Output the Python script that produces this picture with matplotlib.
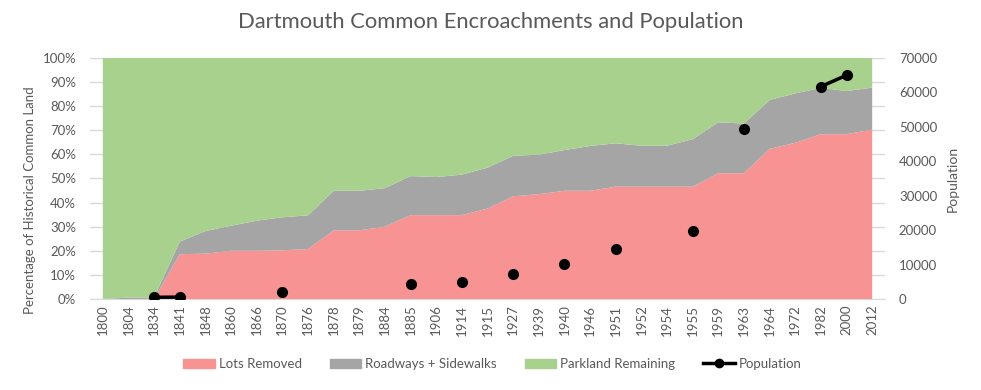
import numpy as np
import matplotlib
matplotlib.use("Agg")
import matplotlib.pyplot as plt
from matplotlib.ticker import PercentFormatter
from matplotlib.lines import Line2D
from matplotlib.patches import Patch

plt.rcParams['font.family'] = ['Lato', 'DejaVu Sans']

years = ['1800', '1804', '1834', '1841', '1848', '1860', '1866', '1870', '1876',
         '1878', '1879', '1884', '1885', '1906', '1914', '1915', '1927', '1939',
         '1940', '1946', '1951', '1952', '1954', '1955', '1959', '1963', '1964',
         '1972', '1982', '2000', '2012']

# percent of historical common land
lots_removed = [0, 0, 0, 18.6, 18.8, 20.0, 20.0, 20.2, 20.7, 28.5, 28.5, 30.0,
                34.8, 34.8, 34.8, 37.5, 42.6, 43.5, 44.9, 44.9, 46.6, 46.6, 46.6,
                46.6, 52.2, 52.2, 62.3, 64.8, 68.4, 68.4, 70.3]
roadways = [0, 0.6, 0.6, 5.2, 9.4, 10.4, 12.5, 13.7, 14.0, 16.4, 16.4, 16.0,
            16.2, 15.8, 16.8, 17.0, 16.8, 16.4, 16.9, 18.6, 18.0, 17.0, 17.0,
            19.7, 21.1, 20.6, 20.3, 20.5, 19.2, 17.9, 17.4]
parkland = [100, 99.4, 99.4, 76.2, 71.8, 69.6, 67.5, 66.1, 65.3, 55.1, 55.1, 54.0,
            49.0, 49.4, 48.4, 45.5, 40.6, 40.1, 38.2, 36.5, 35.4, 36.4, 36.4,
            33.7, 26.7, 27.2, 17.4, 14.7, 12.4, 13.7, 12.3]

nan = np.nan
population = [nan, nan, 500, 550, nan, nan, nan, 2000, nan, nan, nan, nan,
              4400, nan, 4900, nan, 7400, nan, 10300, nan, 14500, nan, nan,
              19700, nan, 49400, nan, nan, 61700, 65000, nan]

c_red = '#F79393'
c_gray = '#A5A5A5'
c_green = '#A9D18E'
c_text = '#595959'
c_grid = '#D9D9D9'

fig = plt.figure(figsize=(9.81, 3.90), dpi=100)
ax = fig.add_axes([90 / 981, 91 / 390, 795 / 981, 241 / 390])
x = np.arange(len(years))

ax.stackplot(x, np.array(lots_removed) / 100, np.array(roadways) / 100,
             np.array(parkland) / 100, colors=[c_red, c_gray, c_green],
             linewidth=0, zorder=2)
ax.set_xlim(-0.5, len(years) - 0.5)
ax.set_ylim(0, 1)
ax.set_yticks(np.arange(0, 1.01, 0.1))
ax.yaxis.set_major_formatter(PercentFormatter(1.0, decimals=0))
ax.set_xticks(x)
ax.set_xticklabels(years, rotation=90)
ax.grid(axis='y', color=c_grid, linewidth=1, zorder=0)
ax.set_axisbelow(True)
for s in ['top', 'left', 'right']:
    ax.spines[s].set_visible(False)
ax.spines['bottom'].set_color(c_grid)
ax.tick_params(axis='both', length=0, colors=c_text, labelsize=9.5)
ax.tick_params(axis='y', pad=10)
ax.tick_params(axis='x', pad=4)
ax.set_ylabel('Percentage of Historical Common Land', color=c_text, fontsize=9.5)
ax.yaxis.set_label_coords(-0.068, 0.41)

ax2 = ax.twinx()
ax2.plot(x, population, color='black', linewidth=2.5, marker='o',
         markersize=7, zorder=5)
ax2.set_ylim(0, 70000)
ax2.set_yticks(np.arange(0, 70001, 10000))
for s in ['top', 'left', 'right', 'bottom']:
    ax2.spines[s].set_visible(False)
ax2.tick_params(axis='y', length=0, colors=c_text, labelsize=9.5, pad=10)
ax2.set_ylabel('Population', color=c_text, fontsize=10)
ax2.yaxis.set_label_coords(1.078, 0.5)

fig.suptitle('Dartmouth Common Encroachments and Population', color=c_text,
             fontsize=15.8, y=0.943, va='center')

handles = [Patch(color=c_red), Patch(color=c_gray), Patch(color=c_green),
           Line2D([], [], color='black', linewidth=2.5, marker='o', markersize=6)]
labels = ['Lots Removed', 'Roadways + Sidewalks', 'Parkland Remaining', 'Population']
leg = fig.legend(handles, labels, loc='center', bbox_to_anchor=(0.502, 26 / 390),
                 ncol=4, frameon=False, fontsize=9.5, handlelength=2.4,
                 handleheight=0.7, handletextpad=0.3, columnspacing=2.1)
for t in leg.get_texts():
    t.set_color(c_text)

fig.savefig('out.png', dpi=100)
